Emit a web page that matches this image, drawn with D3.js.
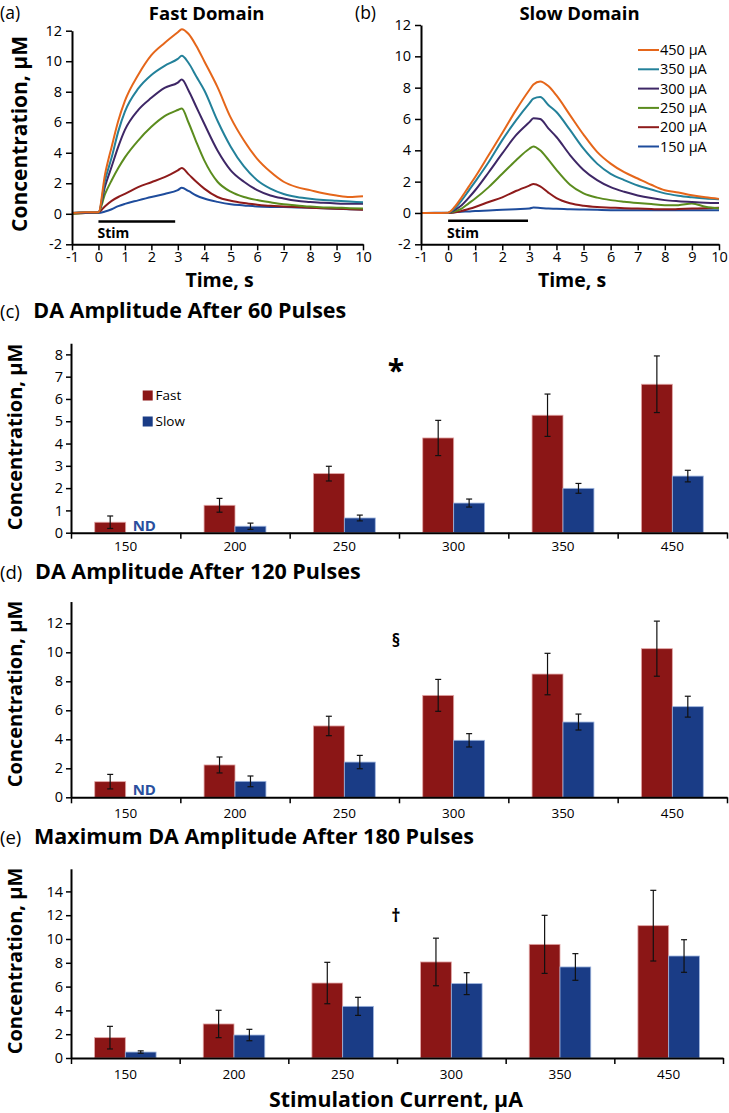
<!DOCTYPE html>
<html><head><meta charset="utf-8">
<script src="https://cdn.jsdelivr.net/npm/d3@7"></script>
<style>body{margin:0;background:#fff}svg{display:block}text{font-family:"Open Sans",Lato,sans-serif}</style>
</head><body>
<svg id="c" width="729" height="1113"></svg>
<script>
// ---------- DATA ----------
const times = [-1,-0.5,0,0.25,0.5,0.75,1,1.5,2,2.5,3,3.15,3.4,3.7,4,4.5,5,5.5,6,6.5,7,7.5,8,8.5,9,9.5,10];
const currents = ["450 µA","350 µA","300 µA","250 µA","200 µA","150 µA"];
const fast450 = [0.05,0.1,0.1,2.6,4.4,6.1,7.4,9.1,10.4,11.2,11.9,12.1,11.8,11.0,10.0,8.3,6.3,4.8,3.6,2.75,2.1,1.75,1.55,1.35,1.2,1.1,1.15];
const fast350 = [0.05,0.1,0.1,2.2,3.7,5.4,6.7,8.2,9.1,9.7,10.15,10.35,9.9,9.0,8.1,6.1,4.4,3.1,2.2,1.65,1.3,1.1,0.98,0.9,0.85,0.8,0.75];
const fast300 = [0.05,0.05,0.1,1.8,3.1,4.4,5.5,6.8,7.6,8.25,8.6,8.8,8.1,7.0,5.9,4.15,2.85,2.1,1.55,1.2,1.0,0.85,0.78,0.72,0.68,0.66,0.66];
const fast250 = [0.0,0.05,0.1,1.3,2.2,3.0,3.7,4.8,5.7,6.4,6.8,6.9,6.0,4.7,3.5,2.1,1.45,1.1,0.9,0.75,0.62,0.55,0.47,0.42,0.4,0.37,0.35];
const fast200 = [0.0,0.05,0.1,0.5,0.85,1.1,1.3,1.75,2.07,2.4,2.85,3.0,2.6,2.1,1.65,1.1,0.85,0.7,0.6,0.52,0.48,0.44,0.4,0.37,0.33,0.3,0.27];
const fast150 = [0.05,0.1,0.05,0.15,0.3,0.5,0.65,0.88,1.1,1.3,1.55,1.7,1.5,1.2,1.0,0.78,0.62,0.55,0.48,0.45,0.44,0.42,0.4,0.37,0.33,0.3,0.28];
const slow450 = [0.0,0.0,0.02,0.4,1.0,1.65,2.3,3.7,5.1,6.55,7.85,8.2,8.4,8.1,7.5,6.25,5.0,3.9,3.15,2.6,2.2,1.8,1.45,1.3,1.13,1.0,0.9];
const slow350 = [0.0,0.0,0.02,0.3,0.8,1.4,2.0,3.25,4.65,5.9,7.0,7.3,7.4,6.9,6.45,5.3,4.1,3.15,2.5,2.1,1.75,1.5,1.25,1.1,1.0,0.92,0.87];
const slow300 = [0.0,0.0,0.0,0.2,0.5,0.95,1.45,2.6,3.8,4.95,5.8,6.05,6.0,5.4,4.85,3.7,2.75,2.1,1.65,1.35,1.12,0.95,0.82,0.75,0.7,0.66,0.64];
const slow250 = [0.0,0.0,0.0,0.1,0.28,0.6,0.92,1.65,2.5,3.35,4.1,4.25,4.0,3.4,2.75,1.8,1.25,0.98,0.82,0.72,0.64,0.57,0.5,0.5,0.6,0.4,0.3];
const slow200 = [0.0,0.0,0.0,0.05,0.13,0.25,0.38,0.7,1.0,1.4,1.75,1.85,1.7,1.3,0.95,0.62,0.46,0.38,0.34,0.3,0.28,0.25,0.23,0.25,0.28,0.3,0.33];
const slow150 = [0.0,0.02,0.0,0.05,0.08,0.1,0.13,0.16,0.2,0.24,0.28,0.35,0.32,0.28,0.27,0.24,0.22,0.2,0.18,0.17,0.17,0.18,0.17,0.18,0.17,0.18,0.17];
const timeTicks = [-1,0,1,2,3,4,5,6,7,8,9,10];
const concTicks = [-2,0,2,4,6,8,10,12];

const categories = ["150","200","250","300","350","450"];
const p60Fast = [0.47,1.23,2.65,4.25,5.27,6.66];
const p60FastErr = [0.28,0.31,0.33,0.79,0.95,1.27];
const p60Slow = [null,0.29,0.66,1.33,1.99,2.54];
const p60SlowErr = [null,0.14,0.13,0.18,0.22,0.26];
const p120Fast = [1.08,2.23,4.92,7.03,8.5,10.25];
const p120FastErr = [0.5,0.55,0.67,1.1,1.43,1.9];
const p120Slow = [null,1.1,2.43,3.93,5.19,6.25];
const p120SlowErr = [null,0.37,0.46,0.46,0.55,0.72];
const p180Fast = [1.71,2.86,6.3,8.07,9.55,11.12];
const p180FastErr = [0.95,1.15,1.74,2.0,2.44,2.97];
const p180Slow = [0.5,1.93,4.34,6.25,7.65,8.57];
const p180SlowErr = [0.1,0.48,0.76,0.92,1.12,1.37];

// ---------- STYLE ----------
const FONT = '"Open Sans"';
const lineColors = ["#E5661A","#23819A","#3E2766","#5B8C1E","#8E1B1B","#1E4C9C"];
const FAST = "#8B1616", SLOW = "#1A3C86";
const svg = d3.select("#c");
svg.append("rect").attr("width",729).attr("height",1113).attr("fill","#fff");

function fit(sel, w, maxFs){ const n=sel.node(); const cur=n.getComputedTextLength(); const fs=parseFloat(sel.attr("font-size"));
  let nf = fs*w/cur; if(maxFs) nf = Math.min(nf, maxFs); sel.attr("font-size", nf); return sel; }
function styleAxis(g, fs){
  g.select(".domain").attr("stroke","#000").attr("stroke-width",2);
  g.selectAll(".tick line").attr("stroke","#000").attr("stroke-width",1.5);
  g.selectAll(".tick text").attr("fill","#000").attr("font-size",fs).attr("font-family",FONT);
}
const plain = d=>String(d);

// ---------- LINE PANELS ----------
function linePanel(o){
  const x = d3.scaleLinear().domain([-1,10]).range(o.xr);
  const y = d3.scaleLinear().domain([-2,12]).range(o.yr);
  const g = svg.append("g");
  const line = d3.line().x(d=>x(d[0])).y(d=>y(d[1])).curve(d3.curveMonotoneX);
  o.series.slice().reverse().forEach((s,i)=>{
    const idx = o.series.length-1-i;
    g.append("path").datum(times.map((t,k)=>[t,s[k]])).attr("d",line)
      .attr("fill","none").attr("stroke",lineColors[idx]).attr("stroke-width",2);
  });
  const ax = g.append("g").attr("transform",`translate(${o.xr[0]},0)`)
    .call(d3.axisLeft(y).tickValues(concTicks).tickFormat(plain).tickSize(6).tickSizeOuter(0).tickPadding(4));
  styleAxis(ax,14.5);
  const bx = g.append("g").attr("transform",`translate(0,${y(-2)})`)
    .call(d3.axisBottom(x).tickValues(timeTicks).tickFormat(plain).tickSize(6).tickSizeOuter(0).tickPadding(1));
  styleAxis(bx,14.5);
  // stim bar
  g.append("line").attr("x1",x(0)).attr("x2",x(o.stimEnd)).attr("y1",y(-0.5)).attr("y2",y(-0.5))
    .attr("stroke","#000").attr("stroke-width",2.5);
  g.append("text").attr("x",x(0)-1).attr("y",y(-1.6)).attr("font-size",14).attr("font-weight","bold").text("Stim");
  fit(g.append("text").attr("x",o.titleX).attr("y",19.5).attr("text-anchor","middle").attr("font-size",18.5).attr("font-weight","bold").text(o.title), o.titleW, 18.5);
  g.append("text").attr("x",o.labX).attr("y",19).attr("font-size",17.5).text(o.lab);
  g.append("text").attr("x",(o.xr[0]+o.xr[1])/2+2).attr("y",287).attr("text-anchor","middle").attr("font-size",19.5).attr("font-weight","bold").text("Time, s");
  return {x,y,g};
}
linePanel({xr:[72,363], yr:[244.3,30.7], series:[fast450,fast350,fast300,fast250,fast200,fast150], stimEnd:2.9,
  title:"Fast Domain", titleX:206.7, titleW:130, lab:"(a)", labX:0});
const pb = linePanel({xr:[421,719], yr:[244.3,25], series:[slow450,slow350,slow300,slow250,slow200,slow150], stimEnd:2.95,
  title:"Slow Domain", titleX:579.5, titleW:141, lab:"(b)", labX:355});
// legend
currents.forEach((c,i)=>{
  const yy = 50 + i*19.3;
  pb.g.append("line").attr("x1",638).attr("x2",659).attr("y1",yy).attr("y2",yy).attr("stroke",lineColors[i]).attr("stroke-width",2);
  pb.g.append("text").attr("x",660).attr("y",yy+5).attr("font-size",14.5).text(c);
});
// y title for a
fit(svg.append("text").attr("transform","translate(27,134) rotate(-90)").attr("text-anchor","middle")
  .attr("font-size",20).attr("font-weight","bold").text("Concentration, µM"), 202, 21);

// ---------- BAR PANELS ----------
function barPanel(o){
  const x = d3.scaleBand().domain(categories).range(o.xr);
  const y = d3.scaleLinear().domain([0,o.top]).range([o.y0, o.y0 - o.top*o.ppu]);
  const g = svg.append("g");
  const bw = x.bandwidth()*0.283;
  const rows = categories.map((c,i)=>({c, f:o.fast[i], fe:o.fastErr[i], s:o.slow[i], se:o.slowErr[i]}));
  g.selectAll(".bf").data(rows).join("rect")
    .attr("x",d=>x(d.c)+x.bandwidth()/2-bw).attr("width",bw)
    .attr("y",d=>y(d.f)).attr("height",d=>y(0)-y(d.f))
    .attr("fill",FAST).attr("stroke","#E2A6A6").attr("stroke-width",0.8);
  const sr = rows.filter(d=>d.s!=null);
  g.selectAll(".bs").data(sr).join("rect")
    .attr("x",d=>x(d.c)+x.bandwidth()/2).attr("width",bw)
    .attr("y",d=>y(d.s)).attr("height",d=>y(0)-y(d.s))
    .attr("fill",SLOW).attr("stroke","#9DB4DE").attr("stroke-width",0.8);
  const err = [];
  rows.forEach(d=>{ err.push({cx:x(d.c)+x.bandwidth()/2-bw/2, v:d.f, e:d.fe});
    if(d.s!=null) err.push({cx:x(d.c)+x.bandwidth()/2+bw/2, v:d.s, e:d.se}); });
  const eg = g.selectAll(".eb").data(err).join("g").attr("stroke","#111").attr("stroke-width",1.2);
  eg.append("line").attr("x1",d=>d.cx).attr("x2",d=>d.cx).attr("y1",d=>y(d.v+d.e)).attr("y2",d=>y(d.v-d.e));
  eg.append("line").attr("x1",d=>d.cx-3).attr("x2",d=>d.cx+3).attr("y1",d=>y(d.v+d.e)).attr("y2",d=>y(d.v+d.e));
  eg.append("line").attr("x1",d=>d.cx-3).attr("x2",d=>d.cx+3).attr("y1",d=>y(d.v-d.e)).attr("y2",d=>y(d.v-d.e));
  // axes
  const ya = g.append("g").attr("transform",`translate(${o.xr[0]},0)`)
    .call(d3.axisLeft(y).tickValues(o.ticks).tickFormat(plain).tickSize(5).tickSizeOuter(0).tickPadding(3));
  styleAxis(ya,14.5);
  const xb = d3.scaleLinear().domain([0,categories.length]).range(o.xr);
  const xa = g.append("g").attr("transform",`translate(0,${y(0)})`)
    .call(d3.axisBottom(xb).ticks(categories.length).tickSize(6).tickSizeOuter(0).tickFormat(""));
  styleAxis(xa,14);
  const xl = g.append("g").attr("transform",`translate(0,${y(0)})`)
    .call(d3.axisBottom(x).tickSize(0).tickPadding(o.labPad));
  xl.select(".domain").remove();
  xl.selectAll("text").attr("font-size",13.5).attr("font-family",FONT).attr("fill","#000");
  // titles
  g.append("text").attr("x",0).attr("y",o.titleY).attr("font-size",18.5).text(o.lab);
  fit(g.append("text").attr("x",o.titleX).attr("y",o.titleY).attr("font-size",19).attr("font-weight","bold").text(o.title), o.titleW, 21.5);
  fit(g.append("text").attr("transform",`translate(21.5,${o.ytc}) rotate(-90)`).attr("text-anchor","middle")
    .attr("font-size",20).attr("font-weight","bold").text("Concentration, µM"), 202, 20);
  // mark
  g.append("text").attr("x",396).attr("y",o.markY).attr("text-anchor","middle").attr("font-size",o.markFs)
    .attr("font-weight","bold").text(o.mark);
  if(o.nd) g.append("text").attr("x",x(categories[0])+x.bandwidth()/2+7).attr("y",y(0)-2)
    .attr("font-size",15).attr("font-weight","bold").attr("fill","#2A4F9E").text("ND");
  return {x,y,g};
}
const pc = barPanel({xr:[71,727], y0:532.7, ppu:22.29, top:8.5, ticks:d3.range(0,9), labPad:9,
  fast:p60Fast, fastErr:p60FastErr, slow:p60Slow, slowErr:p60SlowErr,
  lab:"(c)", title:"DA Amplitude After 60 Pulses", titleX:33.3, titleW:313, titleY:318, ytc:437,
  mark:"*", markY:381, markFs:30, nd:true});
// legend c
[["Fast",FAST,400],["Slow",SLOW,426]].forEach(([t,c,yy])=>{
  pc.g.append("rect").attr("x",142.7).attr("y",yy-9.5).attr("width",10).attr("height",10).attr("fill",c);
  pc.g.append("text").attr("x",155.5).attr("y",yy).attr("font-size",13.5).text(t);
});
barPanel({xr:[71,727], y0:797.3, ppu:14.5, top:13.5, ticks:[0,2,4,6,8,10,12], labPad:11,
  fast:p120Fast, fastErr:p120FastErr, slow:p120Slow, slowErr:p120SlowErr,
  lab:"(d)", title:"DA Amplitude After 120 Pulses", titleX:35, titleW:327, titleY:579, ytc:694,
  mark:"§", markY:647, markFs:17, nd:true});
barPanel({xr:[71,723], y0:1058, ppu:11.9, top:15.9, ticks:[0,2,4,6,8,10,12,14], labPad:11,
  fast:p180Fast, fastErr:p180FastErr, slow:p180Slow, slowErr:p180SlowErr,
  lab:"(e)", title:"Maximum DA Amplitude After 180 Pulses", titleX:34, titleW:444, titleY:844, ytc:961,
  mark:"†", markY:922, markFs:18, nd:false});
fit(svg.append("text").attr("x",396).attr("y",1107).attr("text-anchor","middle").attr("font-size",21)
  .attr("font-weight","bold").text("Stimulation Current, µA"), 254, 22);
</script>
</body></html>
